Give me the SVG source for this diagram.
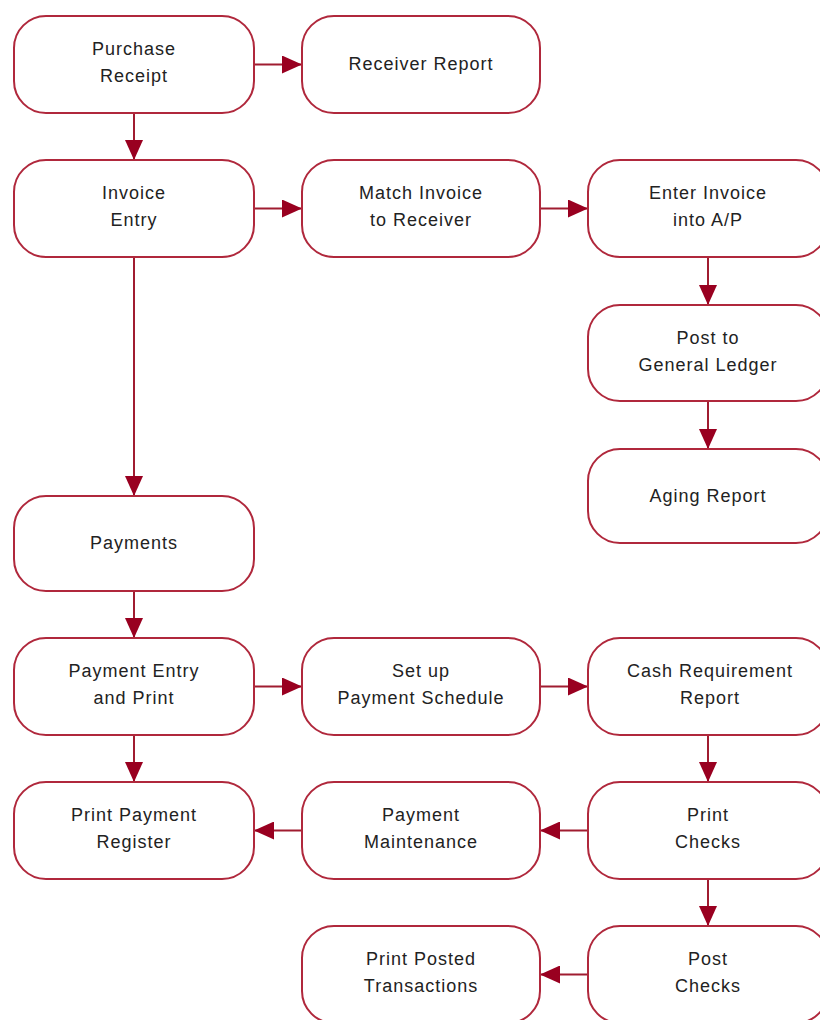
<svg xmlns="http://www.w3.org/2000/svg" width="820" height="1020" viewBox="0 0 820 1020">
<style>
.node rect{fill:#fff;stroke:#b0283c;stroke-width:2}
.node text{font-family:"Liberation Sans",Arial,sans-serif;font-size:18px;letter-spacing:1px;fill:#222;text-anchor:middle}
.conn line{stroke:#a01c30;stroke-width:2;marker-end:url(#ah)}
</style>
<defs>
<marker id="ah" markerUnits="userSpaceOnUse" markerWidth="20" markerHeight="18" refX="20" refY="9" orient="auto">
<path d="M0,0 L20,9 L0,18 z" fill="#990020"/>
</marker>
</defs>
<rect width="820" height="1020" fill="#fff"/>
<g class="conn">
<line x1="254" y1="64.5" x2="302" y2="64.5"/>
<line x1="134" y1="113" x2="134" y2="160"/>
<line x1="254" y1="208.5" x2="302" y2="208.5"/>
<line x1="540" y1="208.5" x2="588" y2="208.5"/>
<line x1="708" y1="257" x2="708" y2="305"/>
<line x1="708" y1="401" x2="708" y2="449"/>
<line x1="134" y1="257" x2="134" y2="496"/>
<line x1="134" y1="591" x2="134" y2="638"/>
<line x1="254" y1="686.5" x2="302" y2="686.5"/>
<line x1="540" y1="686.5" x2="588" y2="686.5"/>
<line x1="134" y1="735" x2="134" y2="782"/>
<line x1="708" y1="735" x2="708" y2="782"/>
<line x1="588" y1="830.5" x2="540" y2="830.5"/>
<line x1="302" y1="830.5" x2="254" y2="830.5"/>
<line x1="708" y1="879" x2="708" y2="926"/>
<line x1="588" y1="974.5" x2="540" y2="974.5"/>
</g>
<g id="purchase-receipt" class="node"><rect x="14" y="16" width="240" height="97" rx="32"/><text x="134" y="55">Purchase</text><text x="134" y="82">Receipt</text></g>
<g id="receiver-report" class="node"><rect x="302" y="16" width="238" height="97" rx="32"/><text x="421" y="70">Receiver Report</text></g>
<g id="invoice-entry" class="node"><rect x="14" y="160" width="240" height="97" rx="32"/><text x="134" y="199">Invoice</text><text x="134" y="226">Entry</text></g>
<g id="match-invoice" class="node"><rect x="302" y="160" width="238" height="97" rx="32"/><text x="421" y="199">Match Invoice</text><text x="421" y="226">to Receiver</text></g>
<g id="enter-invoice" class="node"><rect x="588" y="160" width="240" height="97" rx="32"/><text x="708" y="199">Enter Invoice</text><text x="708" y="226">into A/P</text></g>
<g id="post-gl" class="node"><rect x="588" y="305" width="240" height="96" rx="32"/><text x="708" y="344">Post to</text><text x="708" y="371">General Ledger</text></g>
<g id="aging-report" class="node"><rect x="588" y="449" width="240" height="94" rx="32"/><text x="708" y="502">Aging Report</text></g>
<g id="payments" class="node"><rect x="14" y="496" width="240" height="95" rx="32"/><text x="134" y="549">Payments</text></g>
<g id="payment-entry" class="node"><rect x="14" y="638" width="240" height="97" rx="32"/><text x="134" y="677">Payment Entry</text><text x="134" y="704">and Print</text></g>
<g id="payment-schedule" class="node"><rect x="302" y="638" width="238" height="97" rx="32"/><text x="421" y="677">Set up</text><text x="421" y="704">Payment Schedule</text></g>
<g id="cash-requirement" class="node"><rect x="588" y="638" width="240" height="97" rx="32"/><text x="710" y="677">Cash Requirement</text><text x="710" y="704">Report</text></g>
<g id="print-payment-register" class="node"><rect x="14" y="782" width="240" height="97" rx="32"/><text x="134" y="821">Print Payment</text><text x="134" y="848">Register</text></g>
<g id="payment-maintenance" class="node"><rect x="302" y="782" width="238" height="97" rx="32"/><text x="421" y="821">Payment</text><text x="421" y="848">Maintenance</text></g>
<g id="print-checks" class="node"><rect x="588" y="782" width="240" height="97" rx="32"/><text x="708" y="821">Print</text><text x="708" y="848">Checks</text></g>
<g id="print-posted" class="node"><rect x="302" y="926" width="238" height="97" rx="32"/><text x="421" y="965">Print Posted</text><text x="421" y="992">Transactions</text></g>
<g id="post-checks" class="node"><rect x="588" y="926" width="240" height="97" rx="32"/><text x="708" y="965">Post</text><text x="708" y="992">Checks</text></g>
</svg>
